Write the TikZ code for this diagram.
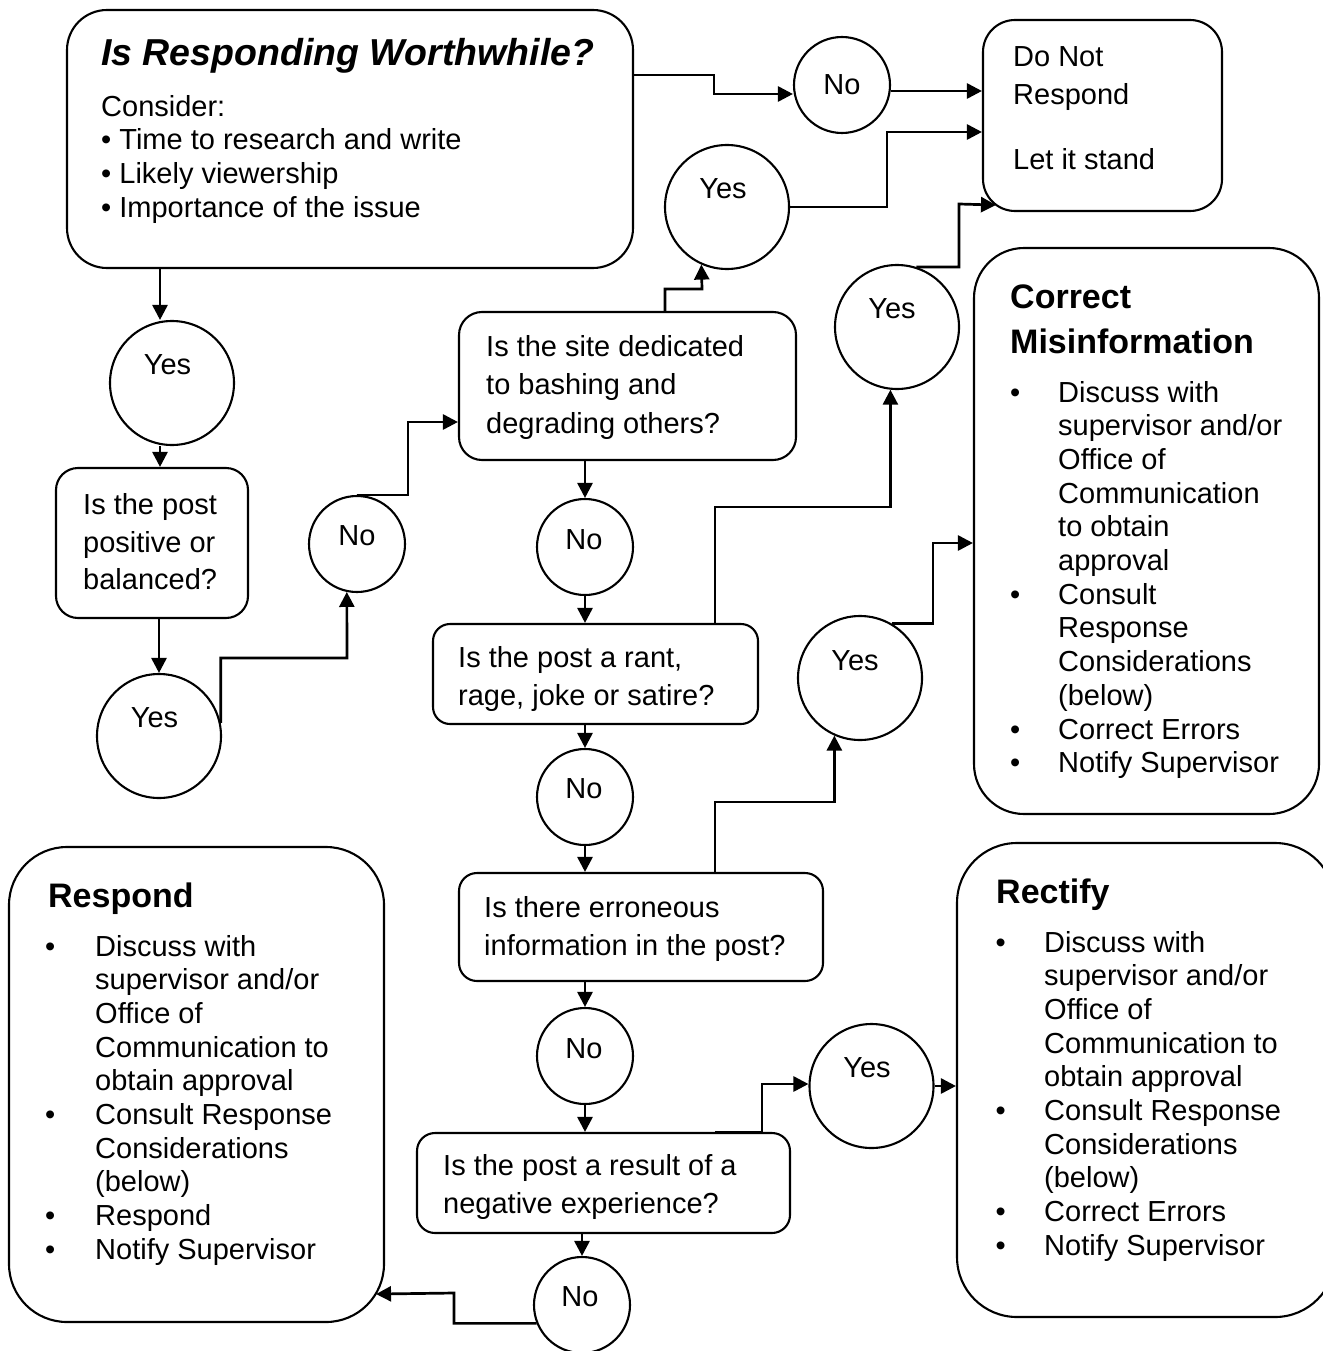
\documentclass[tikz,border=0pt]{standalone}
\usepackage{fontspec}
\setmainfont{Liberation Sans}
\usetikzlibrary{arrows.meta,calc}
\begin{document}
\begin{tikzpicture}[x=1pt,y=-1pt,
  box/.style={draw,line width=2.1pt,rectangle,inner sep=0pt},
  circ/.style={draw,line width=2.1pt,circle,inner sep=0pt},
  yescirc/.style={circ,minimum size=124pt},
  nocirc/.style={circ,minimum size=96pt},
  arr/.style={draw,line width=2.7pt,-{Triangle[length=15pt,width=15pt]}},
  txt/.style={inner sep=0pt,anchor=base west,font=\fontsize{29}{34}\selectfont},
  lbl/.style={inner sep=0pt,anchor=base,font=\fontsize{29}{34}\selectfont},
  head/.style={inner sep=0pt,anchor=base west,font=\fontsize{34}{40}\selectfont\bfseries},
]
\useasboundingbox (0,0) rectangle (1322,1351);

% ---------- boxes ----------
\node[box,rounded corners=40pt,minimum width=566pt,minimum height=258pt] (main) at (350,139) {};
\node[box,rounded corners=32pt,minimum width=239pt,minimum height=191pt] (dnr) at (1102.5,115.5) {};
\node[box,rounded corners=23pt,minimum width=337pt,minimum height=148pt] (site) at (627.5,386) {};
\node[box,rounded corners=22pt,minimum width=192pt,minimum height=150pt] (pos) at (152,543) {};
\node[box,rounded corners=17pt,minimum width=325pt,minimum height=100pt] (rant) at (595.5,674) {};
\node[box,rounded corners=18pt,minimum width=364pt,minimum height=108pt] (err) at (641,927) {};
\node[box,rounded corners=18pt,minimum width=373pt,minimum height=100pt] (neg) at (603.5,1183) {};
\node[box,rounded corners=50pt,minimum width=345pt,minimum height=566pt] (cm) at (1146.5,531) {};
\node[box,rounded corners=58pt,minimum width=375pt,minimum height=475pt] (resp) at (196.5,1084.5) {};
\node[box,rounded corners=60pt,minimum width=378pt,minimum height=474pt] (rect) at (1146,1080) {};

% ---------- circles ----------
\node[nocirc] (no1) at (842,85) {};
\node[yescirc] (yesA) at (727,207) {};
\node[yescirc] (yesB) at (897,327) {};
\node[yescirc] (yes1) at (172,383) {};
\node[yescirc] (yes2) at (159,736) {};
\node[nocirc] (no2) at (357,544) {};
\node[nocirc] (no3) at (585,547) {};
\node[nocirc] (no4) at (585,797) {};
\node[yescirc] (yes4) at (860,678) {};
\node[nocirc] (no5) at (585,1056) {};
\node[nocirc] (no6) at (582,1305) {};
\node[yescirc] (yes5) at (871.5,1086) {};

% circle labels
\node[lbl] (no1t) at (842,95) {No};
\node[lbl] (yesAt) at (723,198) {Yes};
\node[lbl] (yesBt) at (892,318) {Yes};
\node[lbl] (yes1t) at (167.5,374) {Yes};
\node[lbl] (yes2t) at (154.5,727) {Yes};
\node[lbl] (no2t) at (357,545) {No};
\node[lbl] (no3t) at (584,549) {No};
\node[lbl] (no4t) at (584,798) {No};
\node[lbl] (yes4t) at (855,670) {Yes};
\node[lbl] (no5t) at (584,1058) {No};
\node[lbl] (no6t) at (580,1306) {No};
\node[lbl] (yes5t) at (867,1077) {Yes};

% ---------- box texts ----------
\node[txt,font=\fontsize{37.5}{42}\selectfont\bfseries\itshape] (mainT) at (101,66) {Is Responding Worthwhile?};
\node[txt] (main1) at (101,117) {Consider:};
\node[txt] (main2) at (101,150) {• Time to research and write};
\node[txt] (main3) at (101,183.5) {• Likely viewership};
\node[txt] (main4) at (101,217) {• Importance of the issue};

\node[txt] (dnr1) at (1013,67) {Do Not};
\node[txt] (dnr2) at (1013,105) {Respond};
\node[txt] (dnr3) at (1013,170) {Let it stand};

\node[txt] (site1) at (486,356) {Is the site dedicated};
\node[txt] (site2) at (486,394.5) {to bashing and};
\node[txt] (site3) at (486,433) {degrading others?};

\node[txt] (pos1) at (83,514) {Is the post};
\node[txt] (pos2) at (83,552) {positive or};
\node[txt] (pos3) at (83,589) {balanced?};

\node[txt] (rant1) at (458,667) {Is the post a rant,};
\node[txt] (rant2) at (458,705) {rage, joke or satire?};

\node[txt] (err1) at (484,917) {Is there erroneous};
\node[txt] (err2) at (484,955) {information in the post?};

\node[txt] (neg1) at (443,1175) {Is the post a result of a};
\node[txt] (neg2) at (443,1213) {negative experience?};

% Correct Misinformation
\node[head] (cmh1) at (1010,308) {Correct};
\node[head] (cmh2) at (1010,353) {Misinformation};
\foreach \t [count=\i from 0] in {Discuss with,supervisor and/or,Office of,Communication,to obtain,approval,Consult,Response,Considerations,(below),Correct Errors,Notify Supervisor}
  \node[txt] (cm\i) at (1058,{402+33.7*\i}) {\t};
\foreach \i in {0,6,10,11}
  \node[txt] (cmb\i) at (1010,{402+33.7*\i}) {•};

% Respond
\node[head] (resph) at (48,907) {Respond};
\foreach \t [count=\i from 0] in {Discuss with,supervisor and/or,Office of,Communication to,obtain approval,Consult Response,Considerations,(below),Respond,Notify Supervisor}
  \node[txt] (resp\i) at (95,{956+33.7*\i}) {\t};
\foreach \i in {0,5,8,9}
  \node[txt] (respb\i) at (45,{956+33.7*\i}) {•};

% Rectify
\node[head] (recth) at (996,903) {Rectify};
\foreach \t [count=\i from 0] in {Discuss with,supervisor and/or,Office of,Communication to,obtain approval,Consult Response,Considerations,(below),Correct Errors,Notify Supervisor}
  \node[txt] (rect\i) at (1044,{952+33.7*\i}) {\t};
\foreach \i in {0,5,8,9}
  \node[txt] (rectb\i) at (995.5,{952+33.7*\i}) {•};

% ---------- connectors ----------
\draw[arr] (main.east |- 0,75) -| (714,94) -- (no1.west |- 0,94);
\draw[arr] (no1.east |- 0,91) -- (dnr.west |- 0,91);
\draw[arr] (yesA.east) -| (887,132) -- (dnr.west |- 0,132);
\draw[arr] (yesB.72) -| (959,204) -- ($(dnr.south west)+(14,-7)$);
\draw[arr] (site.north -| 665,0) |- (702,289) -- (yesA.246);
\draw[arr] (main.south -| 160,0) -- (yes1.north -| 160,0);
\draw[arr] (yes1.south -| 160,0) -- (pos.north -| 160,0);
\draw[arr] (pos.south -| yes2.north) -- (yes2.north);
\draw[arr] (yes2.12) |- (347,658) -- (no2.258);
\draw[arr] (no2.north) -| (408,422) -- (site.west |- 0,422);
\draw[arr] (site.south -| no3.north) -- (no3.north);
\draw[arr] (no3.south) -- (rant.north -| no3.south);
\draw[arr] (rant.south -| no4.north) -- (no4.north);
\draw[arr] (no4.south) -- (err.north -| no4.south);
\draw[arr] (err.south -| no5.north) -- (no5.north);
\draw[arr] (no5.south) -- (neg.north -| no5.south);
\draw[arr] (neg.south -| no6.north) -- (no6.north);
\draw[arr] (no6.202) -| (454,1293) -- ($(resp.south east)+(-9,-29)$);
\draw[arr] (rant.north -| 715,0) -- (715,507) -| (yesB.264);
\draw[arr] (err.north -| 715,0) -- (715,802) -| (yes4.246);
\draw[arr] (yes4.60) -| (933,543) -- (cm.west |- 0,543);
\draw[arr] (neg.north -| 715,0) -- (neg.north -| 762,0) |- (yes5.west |- 0,1084);
\draw[arr] (yes5.east) -- (rect.west |- yes5.east);
\end{tikzpicture}
\end{document}
